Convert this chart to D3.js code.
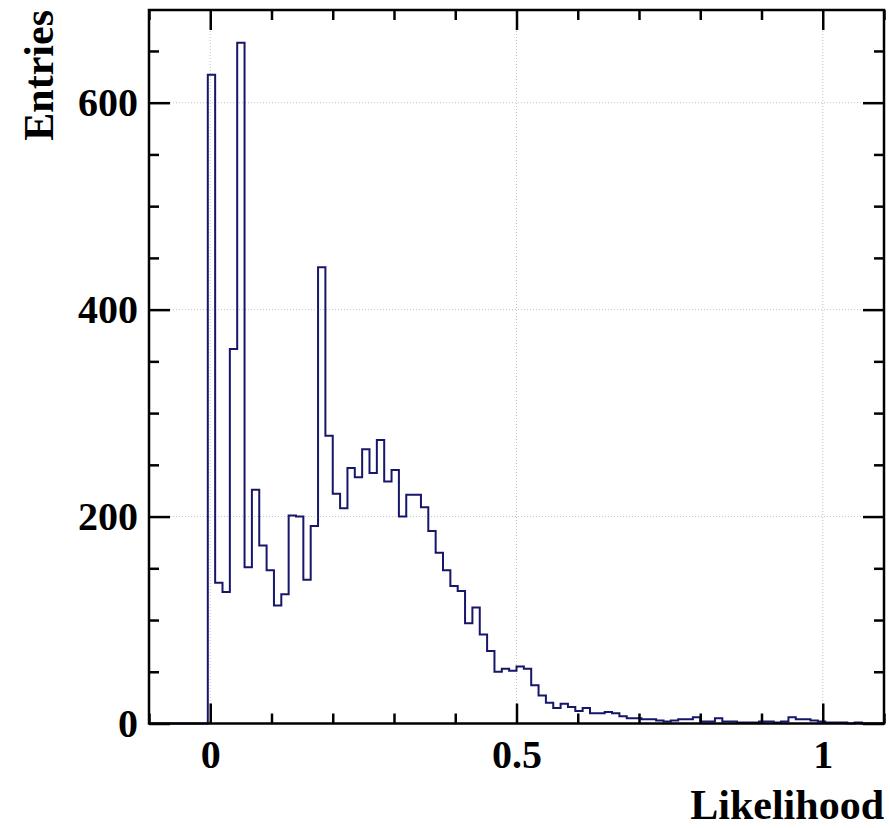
<!DOCTYPE html>
<html>
<head>
<meta charset="utf-8">
<script src="https://cdn.jsdelivr.net/npm/d3@7"></script>
<style>
  body { margin: 0; background: #fff; }
  text { font-family: "Liberation Serif", "Times New Roman", serif; font-weight: bold; }
</style>
</head>
<body>
<svg id="chart" width="890" height="828"></svg>
<script>
// histogram binning: 100 bins over [-0.1, 1.1]
const xMin = -0.1;
const xMax = 1.1;
const binWidth = 0.012;

// bin contents
const counts = [
  0, 0, 0, 0, 0, 0, 0, 0, 627, 136,
  127, 362, 658, 151, 226, 172, 148, 114, 125, 201,
  200, 139, 191, 441, 278, 222, 208, 247, 238, 265,
  242, 274, 234, 245, 200, 221, 221, 209, 186, 165,
  148, 133, 128, 97, 112, 86, 70, 50, 53, 51,
  55, 53, 37, 27, 20, 15, 19, 16, 12, 15,
  10, 10, 11, 10, 7, 5, 5, 4, 4, 3,
  2, 3, 4, 4, 6, 2, 2, 5, 2, 2,
  1, 1, 1, 2, 2, 1, 2, 6, 4, 4,
  3, 2, 1, 1, 1, 0, 1, 0, 0, 0
];

const xMajorTicks = [0, 0.5, 1];
const xMinorTicks = [-0.1, 0.1, 0.2, 0.3, 0.4, 0.6, 0.7, 0.8, 0.9, 1.1];
const yMajorTicks = [0, 200, 400, 600];
const yMinorTicks = [50, 100, 150, 250, 300, 350, 450, 500, 550, 650];
const xTitle = "Likelihood";
const yTitle = "Entries";

const svg = d3.select("#chart");
const frame = { left: 149, right: 884, top: 10, bottom: 723.5 };

const x = d3.scaleLinear().domain([xMin, xMax]).range([frame.left, frame.right]);
const yMax = d3.max(counts) * 1.048;
const y = d3.scaleLinear().domain([0, yMax]).range([frame.bottom, frame.top]);

// dotted grid
const grid = svg.append("g").attr("class", "grid");
grid.selectAll("line.gx")
  .data(xMajorTicks)
  .join("line")
  .attr("x1", (d) => x(d)).attr("x2", (d) => x(d))
  .attr("y1", frame.top).attr("y2", frame.bottom)
  .attr("stroke", "#c4c4c4").attr("stroke-width", 1)
  .attr("stroke-dasharray", "1,2");
grid.selectAll("line.gy")
  .data(yMajorTicks.filter((d) => d > 0))
  .join("line")
  .attr("x1", frame.left).attr("x2", frame.right)
  .attr("y1", (d) => y(d)).attr("y2", (d) => y(d))
  .attr("stroke", "#c4c4c4").attr("stroke-width", 1)
  .attr("stroke-dasharray", "1,2");

// histogram outline
const steps = counts.map((c, i) => [xMin + i * binWidth, c]);
steps.push([xMax, counts[counts.length - 1]]);
const line = d3.line()
  .x((d) => x(d[0]))
  .y((d) => y(d[1]))
  .curve(d3.curveStepAfter);
svg.append("path")
  .datum(steps)
  .attr("d", line)
  .attr("fill", "none")
  .attr("stroke", "#16166b")
  .attr("stroke-width", 2);

// frame
svg.append("rect")
  .attr("x", frame.left).attr("y", frame.top)
  .attr("width", frame.right - frame.left)
  .attr("height", frame.bottom - frame.top)
  .attr("fill", "none").attr("stroke", "#000").attr("stroke-width", 2.5);

function styleAxis(g) {
  g.select(".domain").remove();
  g.selectAll("line").attr("stroke", "#000").attr("stroke-width", 2.5);
  g.selectAll("text")
    .attr("font-family", "Liberation Serif, Times New Roman, serif")
    .attr("font-weight", "bold")
    .attr("font-size", 40)
    .attr("fill", "#000");
}

// bottom
svg.append("g").attr("transform", `translate(0,${frame.bottom})`)
  .call(d3.axisBottom(x).tickValues(xMajorTicks).tickSize(-20).tickPadding(16).tickFormat(d3.format("")))
  .call(styleAxis);
svg.append("g").attr("transform", `translate(0,${frame.bottom})`)
  .call(d3.axisBottom(x).tickValues(xMinorTicks).tickSize(-10).tickFormat(""))
  .call(styleAxis);
// top
svg.append("g").attr("transform", `translate(0,${frame.top})`)
  .call(d3.axisTop(x).tickValues(xMajorTicks).tickSize(-20).tickFormat(""))
  .call(styleAxis);
svg.append("g").attr("transform", `translate(0,${frame.top})`)
  .call(d3.axisTop(x).tickValues(xMinorTicks).tickSize(-10).tickFormat(""))
  .call(styleAxis);
// left
svg.append("g").attr("transform", `translate(${frame.left},0)`)
  .call(d3.axisLeft(y).tickValues(yMajorTicks).tickSize(-21).tickPadding(11).tickFormat(d3.format("d")))
  .call(styleAxis);
svg.append("g").attr("transform", `translate(${frame.left},0)`)
  .call(d3.axisLeft(y).tickValues(yMinorTicks).tickSize(-10).tickFormat(""))
  .call(styleAxis);
// right
svg.append("g").attr("transform", `translate(${frame.right},0)`)
  .call(d3.axisRight(y).tickValues(yMajorTicks).tickSize(-21).tickFormat(""))
  .call(styleAxis);
svg.append("g").attr("transform", `translate(${frame.right},0)`)
  .call(d3.axisRight(y).tickValues(yMinorTicks).tickSize(-10).tickFormat(""))
  .call(styleAxis);

// axis titles
svg.append("text")
  .attr("x", frame.right).attr("y", 819)
  .attr("text-anchor", "end")
  .attr("font-size", 42)
  .text(xTitle);
svg.append("text")
  .attr("transform", `translate(53,${frame.top}) rotate(-90)`)
  .attr("text-anchor", "end")
  .attr("font-size", 42)
  .text(yTitle);
</script>
</body>
</html>
